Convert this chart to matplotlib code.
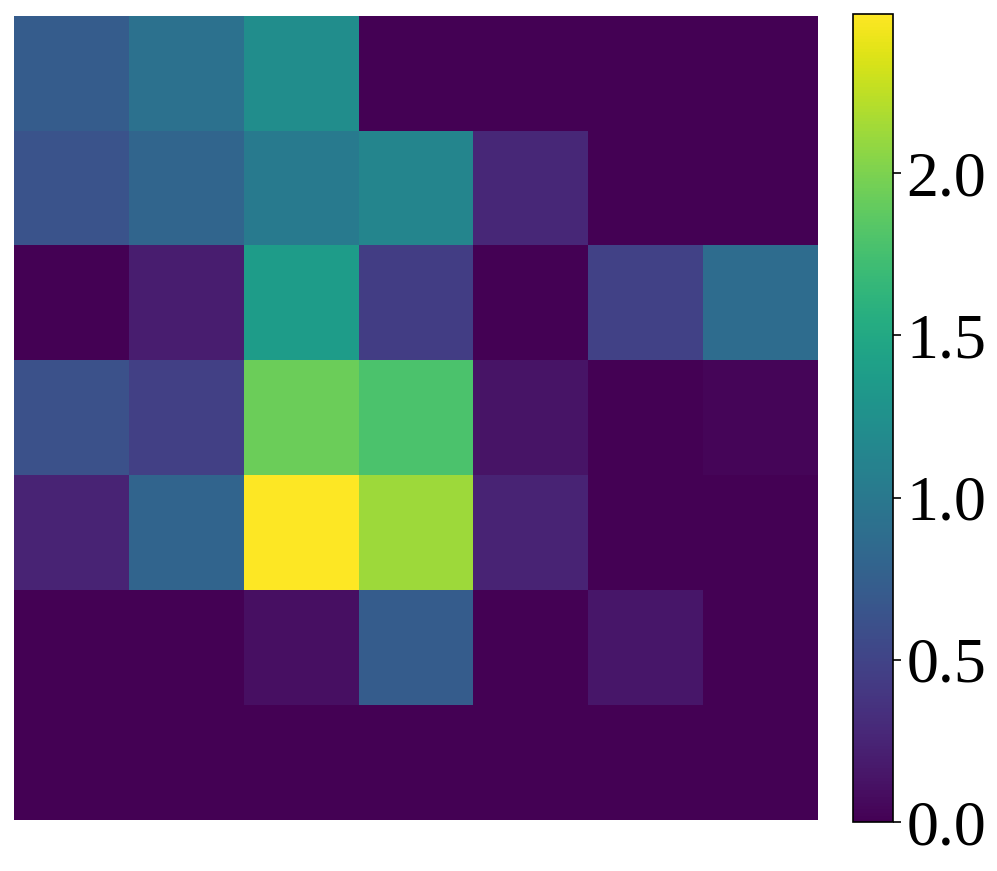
import matplotlib
matplotlib.use("Agg")
import matplotlib.pyplot as plt
import numpy as np

row0 = [0.72, 0.93, 1.22, 0.0, 0.0, 0.0, 0.0]
row1 = [0.64, 0.81, 1.03, 1.13, 0.28, 0.0, 0.0]
row2 = [0.0, 0.20, 1.38, 0.45, 0.0, 0.48, 0.88]
row3 = [0.62, 0.47, 1.93, 1.78, 0.13, 0.0, 0.03]
row4 = [0.25, 0.80, 2.49, 2.13, 0.25, 0.0, 0.0]
row5 = [0.0, 0.0, 0.10, 0.72, 0.0, 0.15, 0.0]
row6 = [0.0, 0.0, 0.0, 0.0, 0.0, 0.0, 0.0]
cbar_ticks = [0.0, 0.5, 1.0, 1.5, 2.0]

data = np.array([row0, row1, row2, row3, row4, row5, row6])

plt.rcParams['font.family'] = ['Liberation Serif', 'DejaVu Serif']
fig = plt.figure(figsize=(9.97, 8.71), dpi=100)
W, H = 997, 871
ax = fig.add_axes([14 / W, (H - 820) / H, 804 / W, 804 / H])
im = ax.imshow(data, cmap='viridis', aspect='auto', interpolation='nearest',
               vmin=0, vmax=data.max())
ax.axis('off')
cax = fig.add_axes([853 / W, (H - 822) / H, 40 / W, 808 / H])
cb = fig.colorbar(im, cax=cax)
cb.set_ticks(cbar_ticks)
cb.ax.tick_params(labelsize=46, length=6, width=1.2)
cb.outline.set_linewidth(1.2)
fig.savefig('out.png', dpi=100)
